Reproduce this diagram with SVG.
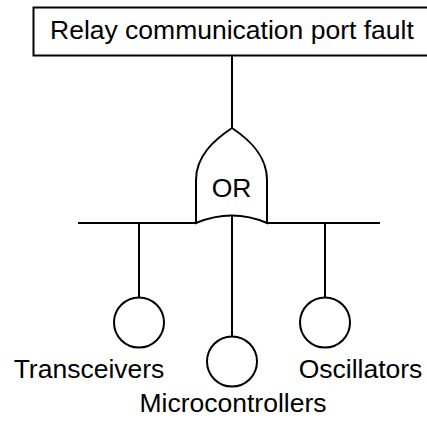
<svg xmlns="http://www.w3.org/2000/svg" width="427" height="423" viewBox="0 0 427 423">
<style>
.s{fill:none;stroke:#000;stroke-width:2}
.n{fill:#fff;stroke:#000;stroke-width:2}
text{font-family:"Liberation Sans",Arial,sans-serif;font-size:26.5px;fill:#000}
</style>
<rect width="427" height="423" fill="#fff"/>
<g id="connectors">
<line class="s" x1="232" y1="56" x2="232" y2="129"/>
<line class="s" x1="78" y1="223" x2="197" y2="223"/>
<line class="s" x1="266" y1="223" x2="380" y2="223"/>
<line class="s" x1="139" y1="223" x2="139" y2="297.5"/>
<line class="s" x1="325" y1="223" x2="325" y2="297.5"/>
<line class="s" x1="232" y1="216" x2="232" y2="336.5"/>
</g>
<g id="top">
<rect class="n" x="33.5" y="7.5" width="400" height="48"/>
<text x="50" y="38.5">Relay communication port fault</text>
</g>
<g id="or-gate">
<path class="n" d="M196,223 L196,180 C196,156 214,140 232,128 C250,140 267,156 267,180 L267,223 Q232,208 196,223 Z"/>
<text x="231.5" y="197" text-anchor="middle">OR</text>
</g>
<g id="transceivers">
<circle class="n" cx="139" cy="322.5" r="25"/>
<text x="89" y="378" text-anchor="middle">Transceivers</text>
</g>
<g id="microcontrollers">
<circle class="n" cx="232" cy="361.5" r="25"/>
<text x="233" y="412" text-anchor="middle">Microcontrollers</text>
</g>
<g id="oscillators">
<circle class="n" cx="325" cy="322.5" r="25"/>
<text x="360.5" y="377.5" text-anchor="middle">Oscillators</text>
</g>
</svg>
